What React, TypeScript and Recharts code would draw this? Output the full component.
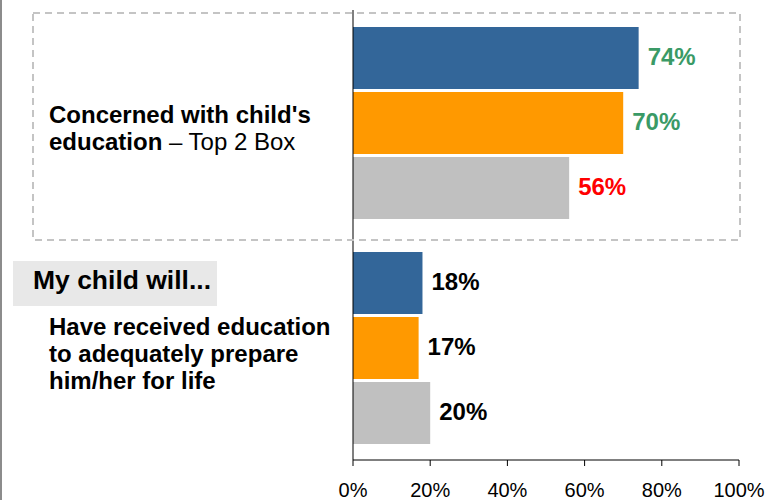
import { BarChart, Bar, XAxis, YAxis, LabelList } from 'recharts';

const categories = [
    "Concerned with child's education – Top 2 Box",
    'Have received education to adequately prepare him/her for life',
];
const categoryLines = [
    ["Concerned with child's", 'education – Top 2 Box'],
    ['Have received education', 'to adequately prepare', 'him/her for life'],
];
const seriesA = [74, 18];
const seriesB = [70, 17];
const seriesC = [56, 20];
const xTicks = [0, 20, 40, 60, 80, 100];
const groupNote = 'My child will...';

// significance colouring of the value labels
const labelColorsA = ['#3a9a66', '#000000'];
const labelColorsB = ['#3a9a66', '#000000'];
const labelColorsC = ['#ff0000', '#000000'];

const FONT = 'Arial, "Liberation Sans", sans-serif';

const data = categories.map((name, i) => ({
    name,
    a: seriesA[i],
    b: seriesB[i],
    c: seriesC[i],
}));

function CategoryTick(props: any) {
    const { y, payload } = props;
    const idx = categories.indexOf(payload.value);
    const lines = categoryLines[idx] || [];
    const first = y + 14 - ((lines.length - 1) * 27) / 2;
    return (
        <g>
            {lines.map((line, i) => {
                const [bold, rest] = line.split(' – ');
                return (
                    <text key={i} x={49} y={first + i * 27} fontSize={24} fontFamily={FONT} fill="#000" textAnchor="start">
                        <tspan fontWeight="bold">{bold}</tspan>
                        {rest !== undefined && <tspan fontWeight="normal">{' – ' + rest}</tspan>}
                    </text>
                );
            })}
        </g>
    );
}

function valueLabel(colors: string[]) {
    return (props: any) => {
        const { x, y, width, height, value, index } = props;
        return (
            <text
                x={x + width + 9}
                y={y + height / 2 + 6.5}
                fontSize={24}
                fontWeight="bold"
                fontFamily={FONT}
                fill={colors[index]}
            >
                {value}%
            </text>
        );
    };
}

export default function App() {
    return (
        <div style={{ position: 'absolute', left: 0, top: 0, width: 776, height: 500, background: '#fff', fontFamily: FONT }}>
            <BarChart
                width={776}
                height={500}
                data={data}
                layout="vertical"
                margin={{ top: 10, right: 37, left: 343, bottom: 0 }}
                barCategoryGap={17}
                barGap={3}
            >
                <XAxis
                    type="number"
                    domain={[0, 100]}
                    ticks={xTicks}
                    tickFormatter={(v) => `${v}%`}
                    height={40}
                    tickSize={6}
                    tickMargin={17}
                    axisLine={{ stroke: '#000' }}
                    tickLine={{ stroke: '#000' }}
                    tick={{ fill: '#000', fontSize: 20, fontFamily: FONT }}
                />
                <YAxis
                    type="category"
                    dataKey="name"
                    width={10}
                    tickLine={false}
                    axisLine={{ stroke: '#000' }}
                    tick={(p: any) => <CategoryTick {...p} />}
                />
                <Bar dataKey="a" fill="#336699" isAnimationActive={false}>
                    <LabelList dataKey="a" content={valueLabel(labelColorsA)} />
                </Bar>
                <Bar dataKey="b" fill="#ff9900" isAnimationActive={false}>
                    <LabelList dataKey="b" content={valueLabel(labelColorsB)} />
                </Bar>
                <Bar dataKey="c" fill="#c0c0c0" isAnimationActive={false}>
                    <LabelList dataKey="c" content={valueLabel(labelColorsC)} />
                </Bar>
            </BarChart>
            <svg width={776} height={500} style={{ position: 'absolute', left: 0, top: 0, pointerEvents: 'none' }}>
                <line x1={1} y1={0} x2={1} y2={500} stroke="#8c8c8c" strokeWidth={2} />
                <rect x={33} y={13} width={707} height={227} fill="none" stroke="#c4c4c4" strokeWidth={2} strokeDasharray="7 5" />
                <rect x={13} y={261} width={204} height={45} fill="#e8e8e8" />
                <text x={33} y={289} fontSize={25} fontWeight="bold" fontFamily={FONT} fill="#000" textLength={178} lengthAdjust="spacingAndGlyphs">
                    {groupNote}
                </text>
            </svg>
        </div>
    );
}
